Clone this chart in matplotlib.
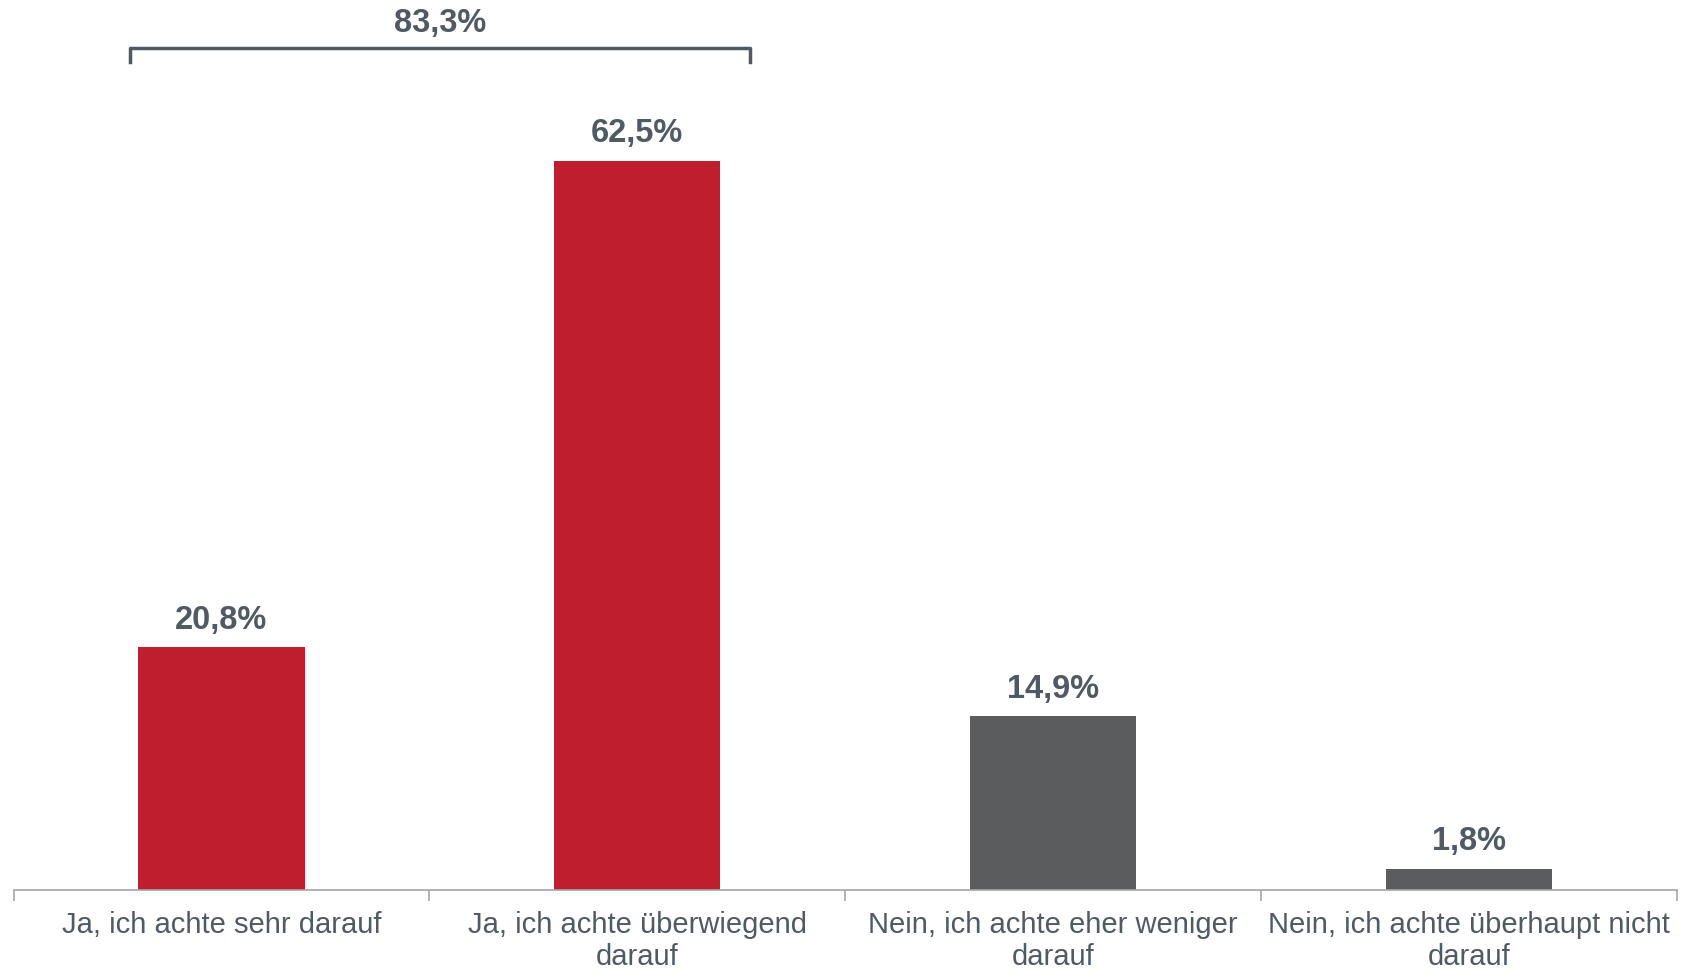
import numpy as np
import matplotlib.pyplot as plt

kategorien = ['Ja, ich achte sehr darauf',
              'Ja, ich achte überwiegend\ndarauf',
              'Nein, ich achte eher weniger\ndarauf',
              'Nein, ich achte überhaupt nicht\ndarauf']
werte = [20.8, 62.5, 14.9, 1.8]
farben = ['#BE1E2D', '#BE1E2D', '#5B5C5E', '#5B5C5E']
summe_ja = 83.3

textfarbe = '#4F5A65'
plt.rcParams['font.family'] = ['Liberation Sans', 'DejaVu Sans']

fig = plt.figure(figsize=(16.92, 9.73), dpi=100)
ax = fig.add_axes([0.008, 0.0853, 0.983, 0.9147])

x = np.arange(len(werte))
ax.bar(x, werte, width=0.4, color=farben, zorder=2)

for xi, w in zip(x, werte):
    ax.text(xi, w + 1.0, '{:.1f}%'.format(w).replace('.', ','),
            ha='center', va='bottom', fontsize=23.5, fontweight='bold',
            color=textfarbe)

# Klammer über den beiden Ja-Antworten
links, rechts = -0.22, 1.27
oben, unten = 72.2, 71.0
ax.plot([links, links, rechts, rechts], [unten, oben, oben, unten],
        color=textfarbe, lw=2.5, solid_joinstyle='round', zorder=3)
ax.text((links + rechts) / 2, oben + 0.75,
        '{:.1f}%'.format(summe_ja).replace('.', ','),
        ha='center', va='bottom', fontsize=23.5, fontweight='bold',
        color=textfarbe)

ax.set_xlim(-0.5, 3.5)
ax.set_ylim(0, 76.3)

for s in ['top', 'right', 'left']:
    ax.spines[s].set_visible(False)
ax.spines['bottom'].set_color('#A6A6A6')
ax.spines['bottom'].set_linewidth(1.2)
ax.set_yticks([])

ax.set_xticks(np.arange(-0.5, 4.0, 1.0))
ax.set_xticklabels([])
ax.tick_params(axis='x', which='major', length=8, width=1.2,
               color='#A6A6A6', direction='out')
ax.set_xticks(x, minor=True)
ax.set_xticklabels(kategorien, minor=True, fontsize=21, color=textfarbe,
                   linespacing=1.17)
ax.tick_params(axis='x', which='minor', length=0, pad=15)

fig.savefig('out.png', dpi=100)
